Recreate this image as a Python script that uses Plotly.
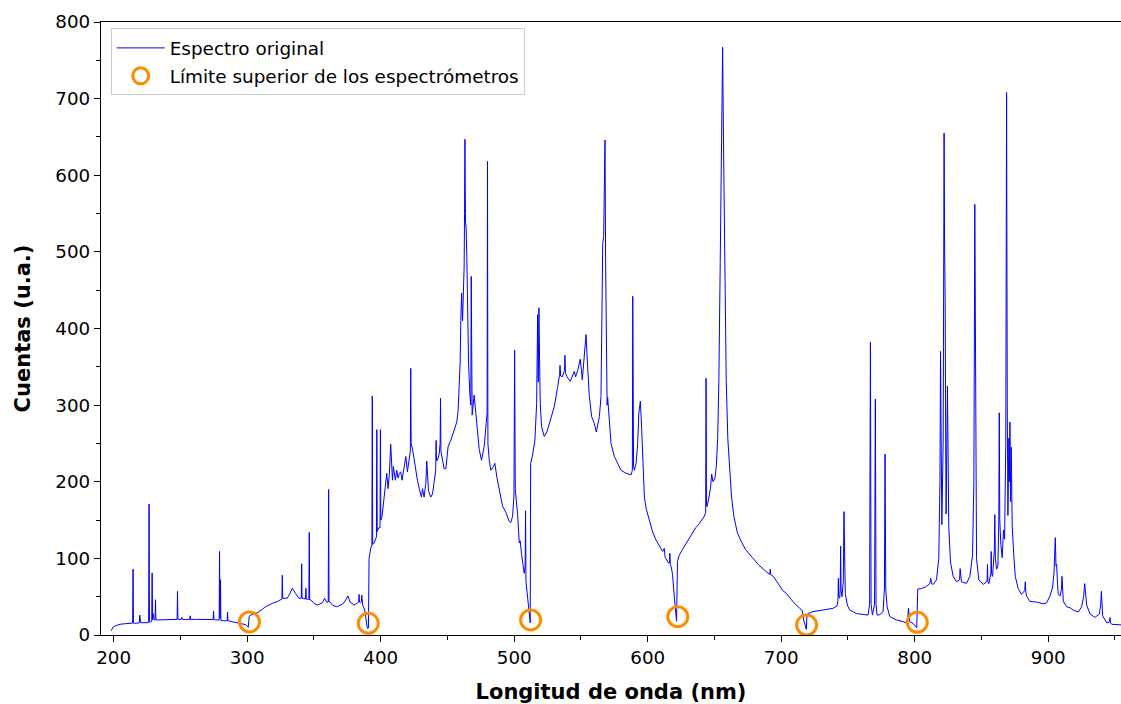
import plotly.graph_objects as go

# ---- Spectrum data, one list per spectrometer: (wavelength nm, counts) ----
spec_1 = [
    (198.3, 5.6), (199.3, 10), (201.3, 12), (203, 13), (205, 14), (208.8, 14.8),
    (213.8, 15.2), (214.2, 15.5), (214.5, 86), (214.8, 15.5), (215.5, 15.2),
    (218.8, 15.5), (219.2, 15.8), (219.5, 26), (219.8, 16), (220.3, 16),
    (225, 16), (226.2, 16.5), (226.5, 171), (226.8, 17), (227.5, 17),
    (228.5, 17.5), (228.8, 81), (229.1, 20), (229.5, 28), (230.3, 19.6),
    (231, 19.8), (231.3, 46), (231.6, 20), (232.5, 19.6), (238.8, 19.8),
    (243.8, 20.4), (247.5, 20.4), (247.8, 57), (248.1, 20.5), (248.8, 20.4),
    (250.7, 20.5), (251, 23), (251.3, 20.5), (253.8, 20.2), (257, 20.3),
    (257.3, 25), (257.6, 20.3), (261.3, 20.4), (268.8, 20.3), (273.8, 20),
    (274.5, 20.2), (274.8, 31), (275.1, 20.2), (276.3, 19.8), (278.3, 19.5),
    (279, 19.5), (279.3, 109), (279.6, 22), (280, 72), (280.3, 19),
    (281.3, 18.7), (285, 18.4), (285.3, 30), (285.6, 18.3), (286.3, 18.3),
    (288.8, 17.4), (292.5, 16), (295, 15.2), (297, 14.4), (298.8, 13.5),
    (300, 11.7), (300.8, 10),
]

spec_2 = [
    (301.5, 24), (301.8, 25), (303.8, 27), (307.5, 29), (311.3, 33.5),
    (313.8, 37), (316.3, 39), (318.8, 41.3), (322.5, 43.5), (325, 46.5),
    (326, 47), (326.3, 78), (326.6, 48), (327.5, 47.8), (330, 48),
    (332, 54), (333.8, 61), (336.3, 54), (338.8, 47.8), (340, 48),
    (340.5, 48), (340.8, 93), (341.1, 48), (342, 47.8), (343.7, 47),
    (344, 61), (344.3, 47), (345, 46.5), (346.2, 46.5), (346.5, 134),
    (346.8, 46), (347.5, 46), (350, 41.3), (352.5, 39), (356.3, 42),
    (358, 47.8), (359.5, 43), (360.7, 43), (361, 190), (361.3, 44),
    (362, 43), (363.8, 39), (367, 36.8), (370, 39), (372.5, 42),
    (375.5, 51), (377, 43), (380, 39), (382.5, 42), (383.5, 43),
    (383.8, 53), (384.1, 43), (384.8, 42), (385.5, 43), (385.8, 52),
    (386.1, 42), (386.5, 39), (388, 32.6), (389, 19.6), (390, 8.7),
    (390.8, 9),
]

spec_3 = [
    (391.3, 100), (392.5, 113), (393.4, 118), (393.7, 312), (394, 118),
    (395, 120), (396.8, 128), (397.1, 268), (397.4, 135), (398.5, 140),
    (399.5, 140), (399.8, 268), (400.1, 150), (401, 154.5), (402.5, 180),
    (403.8, 198), (404.5, 211), (405.5, 191), (406.5, 210), (407.5, 249),
    (408.8, 202), (409.5, 220), (410.3, 205), (411, 202), (412, 215),
    (413, 205), (414, 211), (415, 213), (416, 202), (417, 215),
    (418.8, 233), (420, 213), (421, 228), (422.2, 240), (422.5, 348),
    (422.8, 250), (423.8, 243), (425, 228), (427.5, 202), (429, 190),
    (430.5, 180), (431.3, 191), (432.5, 180), (433.8, 198), (434.5, 227),
    (435.8, 188), (437.5, 180), (438.8, 184), (440, 202), (441.2, 215),
    (441.5, 254), (441.8, 228), (442.5, 228), (443.8, 236), (444.5, 250),
    (444.8, 309), (445.1, 240), (446.3, 228), (447.5, 217), (448.8, 217),
    (450.5, 246), (452.5, 254), (455, 267), (457, 278), (458, 293),
    (458.8, 330), (459.5, 355), (460, 410), (460.6, 446), (461.3, 410),
    (462, 456), (462.5, 480), (462.8, 550), (463.1, 647), (463.5, 540),
    (464, 531), (464.5, 495), (465.2, 420), (465.8, 355), (466.8, 313),
    (467.5, 300), (467.8, 468), (468.1, 300), (468.5, 287), (470, 313),
    (471.3, 289), (472.5, 265), (473.8, 242), (475.5, 228), (477.5, 246),
    (479, 276), (479.7, 290), (480, 618), (480.3, 250), (481.3, 228),
    (482.5, 215), (484.5, 220), (485.5, 224), (487, 206), (488.8, 189),
    (491.3, 168), (493.8, 160), (495, 155), (496.3, 148), (497.5, 147),
    (498.8, 155), (499.8, 181), (500.3, 372), (500.8, 190), (502.5, 159),
    (503.8, 120), (504.5, 123), (505.5, 105), (506.3, 94), (507.5, 80.5),
    (508.2, 90), (508.5, 162), (508.8, 70), (509.5, 59), (510.5, 41),
    (511.3, 30), (512, 16),
]

spec_4 = [
    (512.3, 224), (513.8, 235), (515.5, 254.5), (516.8, 302), (517.3, 380),
    (517.5, 418), (518, 330), (518.5, 427), (519, 360), (519.5, 302),
    (520.5, 272), (522.5, 259), (524.5, 265), (527.5, 285), (530, 298),
    (532.5, 323), (534, 340), (534.3, 352), (534.8, 338), (536, 337),
    (537.7, 345), (538, 365), (538.4, 342), (539.5, 337), (542, 331),
    (545, 344), (546, 337), (547.5, 345), (549.5, 360), (551, 333),
    (552.5, 360), (553.8, 392), (555, 350), (556.3, 311), (558, 285),
    (560, 276), (561.5, 265), (563.8, 285), (565, 311), (566.3, 511),
    (567, 520), (567.6, 600), (568, 646), (568.5, 480), (569.2, 330),
    (569.6, 300), (570, 310), (570.5, 298), (572.5, 250), (575, 233),
    (577.5, 224), (580, 215), (583.8, 211), (587.5, 209), (588.5, 215),
    (588.8, 442), (589.1, 330), (589.4, 220), (590, 215), (591.3, 224),
    (592.5, 250), (593.3, 289), (594.5, 305), (595.5, 268), (596.3, 221),
    (597.5, 180), (598.8, 165), (601.2, 150), (603.7, 134.5), (606.2, 124),
    (608.7, 117), (611.2, 109), (612.4, 113), (613, 101.5), (615.6, 94),
    (616.3, 94), (616.6, 106.5), (616.9, 92), (617.6, 89), (618.6, 79),
    (620, 48), (621.6, 18),
]

spec_5 = [
    (622.3, 96), (623.6, 104), (626, 111.6), (628.5, 119), (631, 127),
    (633.5, 134.5), (636, 140), (638.5, 145), (641, 151), (642.4, 155),
    (643.4, 160), (643.7, 335), (644, 170), (644.4, 167.5), (645.9, 180),
    (647.1, 193), (647.9, 210), (648.9, 200), (650.4, 205), (651.4, 221),
    (652.4, 256), (653.3, 332), (654.3, 485), (655.3, 688), (656.1, 767),
    (656.8, 637), (657.8, 459), (658.8, 332), (660, 256), (661.3, 215),
    (662.8, 180), (664.5, 155), (667, 134.5), (669.5, 124), (673.2, 111.6),
    (678.2, 101.5), (683.1, 91.4), (688.1, 83.7), (691.5, 79), (691.8, 86),
    (692.1, 79), (694.3, 76), (698, 66), (701.2, 58), (703.8, 54.4),
    (708.8, 43.5), (713.8, 34.8), (715.8, 31.8), (716.8, 19.6), (718.8, 7.4),
]

spec_6 = [
    (719.3, 26), (720, 28), (723.8, 30.5), (731, 32.6), (738.8, 34.8),
    (741.8, 37.9), (742.5, 45), (742.8, 74), (743.1, 50), (743.8, 48),
    (744.2, 60), (744.5, 116), (744.8, 60), (745.5, 50), (746.5, 70),
    (747, 161), (747.5, 70), (748, 54), (749.5, 39), (751.3, 32.6),
    (756.3, 28), (762.5, 26), (765, 26), (766.2, 40), (766.8, 382),
    (767.3, 40), (768.3, 26), (769.9, 40), (770.5, 308), (771, 40),
    (771.8, 26), (773.8, 26.5), (776.3, 30.5), (777.3, 60), (777.8, 236),
    (778.3, 60), (779.3, 37), (781.3, 24), (786.3, 19.6), (791.3, 17.4),
    (794.5, 15), (795.3, 35), (796.3, 17.4), (798.8, 15), (801.5, 9.6),
]

spec_7 = [
    (802.3, 60), (805, 60.5), (808.8, 63.4), (811.3, 67), (812, 74),
    (812.6, 67), (813.8, 66), (816.3, 72), (818, 100), (818.9, 200),
    (819.3, 370), (819.7, 200), (820.3, 144), (821.3, 250), (822, 655),
    (822.4, 500), (822.8, 440), (823.2, 250), (823.5, 158), (824.5, 325),
    (825, 200), (825.5, 142), (826.8, 95), (828.8, 76.5), (831.3, 69.5),
    (833.6, 72), (834, 86.7), (834.4, 72), (835, 69.5), (838.8, 67.3),
    (841.3, 76.5), (843.3, 104), (844.3, 200), (845, 562), (845.7, 200),
    (846.3, 100), (848, 72), (851.3, 66), (854.2, 70), (854.5, 92),
    (854.8, 70), (855.5, 67), (857, 80), (857.3, 109), (857.6, 80),
    (858.3, 76.5), (859.6, 110), (860, 157), (860.4, 100), (861.3, 85.8),
    (862.3, 90), (863, 150), (863.3, 290), (863.7, 150), (864.5, 118),
    (865.5, 101), (866.5, 137), (867.3, 125), (868.2, 250), (868.8, 708),
    (869.3, 300), (869.8, 156), (870.5, 257), (870.9, 200), (871.3, 278),
    (871.8, 174), (872.3, 245), (873, 142), (874.3, 101), (875.3, 76.5),
    (877.5, 60.6), (880, 53), (882.4, 58), (882.8, 69.5), (883.2, 56),
    (883.8, 50.7), (886.3, 43.8), (891.3, 43), (896.3, 40.6), (898.8, 42),
    (901.3, 51), (903.3, 62.5), (904.3, 81), (905.3, 127), (905.8, 90),
    (906.3, 92), (907, 65), (907.5, 53), (908.8, 50.7), (909.9, 60),
    (910.3, 76.5), (910.7, 55), (911.3, 43.8), (913.8, 36.8), (916.3, 35.6),
    (918.8, 32.4), (922.5, 30), (925, 36.8), (926.5, 50), (927.3, 67),
    (928, 48), (928.8, 39), (931.3, 27.4), (935, 23), (938.3, 27.4),
    (939.3, 40), (939.8, 57), (940.3, 35), (940.8, 25), (943.8, 15.8),
    (946, 17), (946.3, 22.8), (946.6, 16), (947.5, 14), (951.3, 13.3),
    (954.5, 13), (956, 13),
]

# Upper limit of each spectrometer (orange circles)
limite_wl = [301.7, 390.7, 512.3, 622.5, 719.0, 801.9]
limite_cnt = [17, 15.2, 19.6, 23.9, 13, 16.5]

x_ticks = [200, 300, 400, 500, 600, 700, 800, 900]
y_ticks = [0, 100, 200, 300, 400, 500, 600, 700, 800]

segments = [spec_1, spec_2, spec_3, spec_4, spec_5, spec_6, spec_7]
wl = [p[0] for s in segments for p in s]
cnt = [p[1] for s in segments for p in s]

FONT = "DejaVu Sans"

fig = go.Figure()
fig.add_trace(go.Scatter(
    x=wl, y=cnt, mode="lines", name="Espectro original",
    line=dict(color="#0000ff", width=1),
    legendgroup="a",
))
fig.add_trace(go.Scatter(
    x=limite_wl, y=limite_cnt, mode="markers",
    name="Límite superior de los espectrómetros",
    marker=dict(symbol="circle-open", size=20, color="#ff8c00",
                line=dict(width=3, color="#ff8c00")),
    legendgroup="b",
))

fig.update_layout(
    width=1121, height=704,
    margin=dict(l=101, r=0, t=22, b=69, autoexpand=False),
    paper_bgcolor="white", plot_bgcolor="white",
    font=dict(family=FONT, size=18, color="black"),
    showlegend=True,
    legend=dict(
        x=0.0095, y=0.9895, xanchor="left", yanchor="top",
        bgcolor="rgba(255,255,255,0.8)", bordercolor="#cccccc", borderwidth=1,
        font=dict(family=FONT, size=18.4, color="black"),
        itemwidth=48, traceorder="grouped", tracegroupgap=1,
    ),
)
fig.update_xaxes(
    range=[190.5, 954.5], tickmode="array", tickvals=x_ticks,
    ticks="outside", ticklen=6, tickwidth=1.3, tickcolor="black",
    minor=dict(dtick=50, tick0=0, ticks="outside", ticklen=3.5, tickwidth=1, tickcolor="black"),
    showline=True, linecolor="black", linewidth=1.3, mirror=True,
    showgrid=False, zeroline=False, automargin=False,
    tickfont=dict(family=FONT, size=18.3, color="black"),
    title=dict(text="Longitud de onda (nm)", standoff=27,
               font=dict(family=FONT, size=21, color="black", weight="bold")),
)
fig.update_yaxes(
    range=[0, 800], tickmode="array", tickvals=y_ticks,
    ticks="outside", ticklen=6, tickwidth=1.3, tickcolor="black",
    minor=dict(dtick=50, tick0=0, ticks="outside", ticklen=3.5, tickwidth=1, tickcolor="black"),
    showline=True, linecolor="black", linewidth=1.3, mirror=False,
    showgrid=False, zeroline=False, automargin=False,
    tickfont=dict(family=FONT, size=18.3, color="black"),
    title=dict(text="Cuentas (u.a.)", standoff=18,
               font=dict(family=FONT, size=21, color="black", weight="bold")),
)

fig.write_html(
    "out.html",
    config={"displayModeBar": False},
    post_script="document.body.style.margin='0';document.body.style.overflow='hidden';",
)
